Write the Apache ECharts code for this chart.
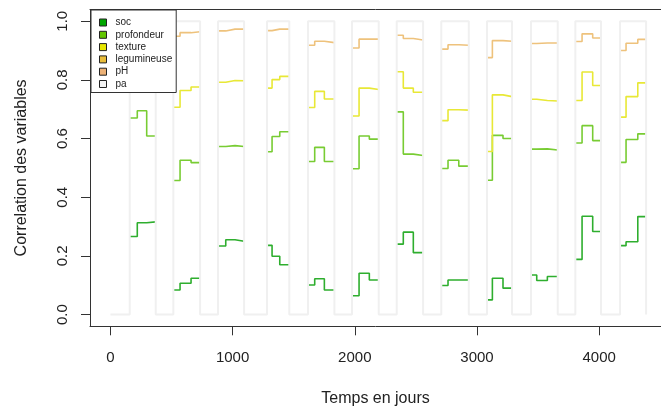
<!DOCTYPE html>
<html><head><meta charset="utf-8">
<script src="https://cdn.jsdelivr.net/npm/echarts@6/dist/echarts.min.js"></script>
<style>html,body{margin:0;padding:0;background:#fff}#c{width:661px;height:414px}</style>
</head><body><div id="c"></div>
<script>
// Time breakpoints (days) of each block: [start, step1, step2, end]
const blockTimes = [
  [158, 220, 297, 371], [515, 570, 660, 734], [881, 944, 1020, 1094], [1282, 1323, 1386, 1464],
  [1617, 1672, 1751, 1833], [1977, 2035, 2119, 2196], [2343, 2397, 2479, 2559], [2708, 2763, 2851, 2933],
  [3082, 3126, 3213, 3287], [3442, 3489, 3576, 3661], [3805, 3860, 3947, 4015], [4171, 4220, 4316, 4384]
];
// Cumulative line levels, 3 sub-periods per block
const soc = [
  [0.266, 0.313, 0.316], [0.084, 0.107, 0.124], [0.234, 0.255, 0.250], [0.236, 0.199, 0.170],
  [0.101, 0.122, 0.084], [0.064, 0.141, 0.118], [0.240, 0.281, 0.211], [0.099, 0.118, 0.118],
  [0.050, 0.124, 0.090], [0.135, 0.116, 0.130], [0.188, 0.335, 0.283], [0.235, 0.248, 0.334]
];
const profondeur = [
  [0.670, 0.695, 0.609], [0.457, 0.526, 0.518], [0.573, 0.576, 0.573], [0.555, 0.607, 0.623],
  [0.522, 0.570, 0.522], [0.497, 0.609, 0.598], [0.691, 0.547, 0.542], [0.498, 0.526, 0.506],
  [0.458, 0.611, 0.600], [0.564, 0.565, 0.561], [0.585, 0.644, 0.593], [0.519, 0.597, 0.616]
];
const texture = [
  [0.780, 0.800, 0.790], [0.707, 0.764, 0.776], [0.792, 0.798, 0.797], [0.772, 0.801, 0.812],
  [0.706, 0.761, 0.735], [0.677, 0.772, 0.767], [0.828, 0.772, 0.758], [0.661, 0.698, 0.697],
  [0.556, 0.749, 0.743], [0.734, 0.730, 0.728], [0.730, 0.827, 0.781], [0.673, 0.743, 0.790]
];
const legumineuse = [
  [0.950, 0.960, 0.960], [0.949, 0.961, 0.964], [0.967, 0.973, 0.973], [0.968, 0.973, 0.973],
  [0.918, 0.932, 0.927], [0.909, 0.939, 0.939], [0.952, 0.941, 0.936], [0.905, 0.920, 0.918],
  [0.876, 0.934, 0.932], [0.924, 0.926, 0.926], [0.931, 0.957, 0.943], [0.900, 0.925, 0.938]
];
const pH = [
  [1, 1, 1], [1, 1, 1], [1, 1, 1], [1, 1, 1], [1, 1, 1], [1, 1, 1],
  [1, 1, 1], [1, 1, 1], [1, 1, 1], [1, 1, 1], [1, 1, 1], [1, 1, 1]
];
const pa = [
  [1, 1, 1], [1, 1, 1], [1, 1, 1], [1, 1, 1], [1, 1, 1], [1, 1, 1],
  [1, 1, 1], [1, 1, 1], [1, 1, 1], [1, 1, 1], [1, 1, 1], [1, 1, 1]
];
const seriesNames = ['soc', 'profondeur', 'texture', 'legumineuse', 'pH', 'pa'];
const seriesValues = [soc, profondeur, texture, legumineuse, pH, pa];
const fillColors = ['#00A600', '#63C600', '#E6E600', '#E9BD3A', '#ECB176', '#F2F2F2'];
const lineColors = ['#2EAE2E', '#78CC33', '#E8E836', '#EEC27C', '#EEC090', '#F0F0F0'];
const xTicks = [0, 1000, 2000, 3000, 4000];
const yTicks = [0, 0.2, 0.4, 0.6, 0.8, 1.0];

// Coloured lines: one step segment per block (breaks between blocks)
function blockSteps(vals) {
  const pts = [];
  blockTimes.forEach((bt, i) => {
    pts.push([bt[0], vals[i][0]], [bt[1], vals[i][1]], [bt[2], vals[i][2]], [bt[3], vals[i][2]], [bt[3], '-']);
  });
  return pts;
}
// Total (pa) line: continuous, dropping to 0 between blocks
function totalSteps(vals) {
  const pts = [[0, 0]];
  blockTimes.forEach((bt, i) => {
    pts.push([bt[0], vals[i][0]], [bt[1], vals[i][1]], [bt[2], vals[i][2]], [bt[3], 0]);
  });
  return pts;
}

const font = "'Liberation Sans', Arial, sans-serif";
const chart = echarts.init(document.getElementById('c'), null, { renderer: 'canvas' });
const axisCol = '#333';
chart.setOption({
  animation: false,
  backgroundColor: '#fff',
  grid: { left: 90, top: 9.5, right: 0, height: 316.8, show: false },
  xAxis: [{
    type: 'value', min: -167, max: 4506, position: 'bottom',
    name: 'Temps en jours', nameLocation: 'middle', nameGap: 64,
    nameTextStyle: { fontFamily: font, fontSize: 16, color: '#222' },
    axisLine: { show: true, onZero: false, lineStyle: { color: axisCol, width: 1 } },
    axisTick: { show: true, inside: false, length: 9, customValues: xTicks, lineStyle: { color: axisCol } },
    axisLabel: { customValues: xTicks, margin: 24, fontFamily: font, fontSize: 15, color: '#222', formatter: v => String(v) },
    splitLine: { show: false }
  }, {
    type: 'value', min: -167, max: 4506, position: 'top',
    axisLine: { show: true, onZero: false, lineStyle: { color: axisCol, width: 1 } },
    axisTick: { show: false }, axisLabel: { show: false }, splitLine: { show: false }
  }],
  yAxis: {
    type: 'value', min: -0.04, max: 1.04,
    name: 'Correlation des variables', nameLocation: 'middle', nameGap: 60,
    nameTextStyle: { fontFamily: font, fontSize: 16, color: '#222' },
    axisLine: { show: true, onZero: false, lineStyle: { color: axisCol, width: 1 } },
    axisTick: { show: true, inside: false, length: 9, customValues: yTicks, lineStyle: { color: axisCol } },
    axisLabel: { customValues: yTicks, rotate: 90, margin: 20, fontFamily: font, fontSize: 15, color: '#222', formatter: v => v.toFixed(1) },
    splitLine: { show: false }
  },
  legend: {
    orient: 'vertical', left: 91, top: 10,
    padding: [7, 4, 3, 8], itemWidth: 7, itemHeight: 7, itemGap: 1.3,
    backgroundColor: '#fff', borderColor: axisCol, borderWidth: 1, borderRadius: 0,
    selectedMode: false, z: 20,
    textStyle: { fontFamily: font, fontSize: 10, color: '#222', lineHeight: 11, padding: [0, 0, 0, 4] },
    data: seriesNames.map((n, i) => ({ name: n, icon: 'rect', itemStyle: { color: fillColors[i], borderColor: '#222', borderWidth: 1 } }))
  },
  series: seriesNames.map((n, i) => ({
    name: n, type: 'line', step: 'end', symbol: 'none', xAxisIndex: 0,
    data: n === 'pa' ? totalSteps(seriesValues[i]) : blockSteps(seriesValues[i]),
    itemStyle: { color: fillColors[i] },
    lineStyle: { color: lineColors[i], width: n === 'pa' ? 2 : 1.6, opacity: n === 'pH' ? 0 : 1 },
    z: 2 + i
  }))
});
</script></body></html>
